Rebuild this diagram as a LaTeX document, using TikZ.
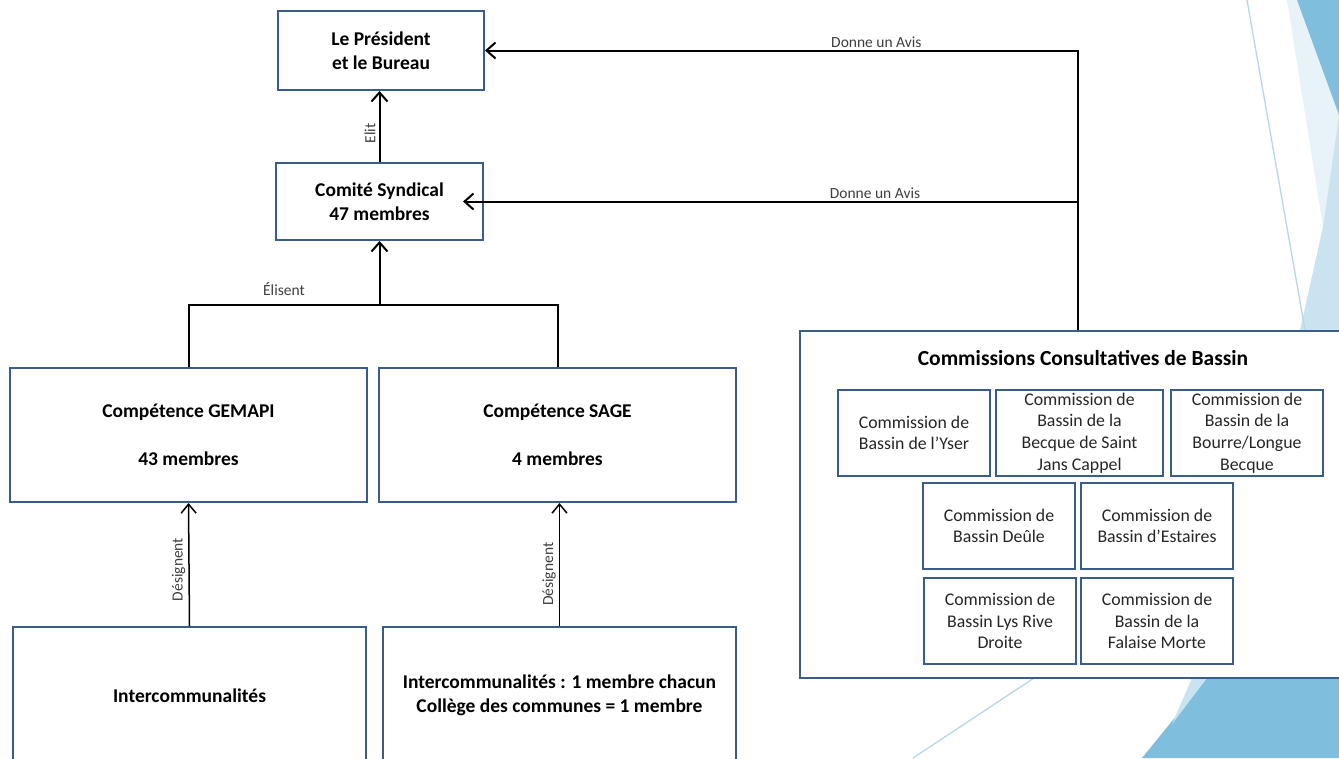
\documentclass[tikz,border=0pt]{standalone}
\usepackage{fontspec}
\setmainfont{Carlito}
\usetikzlibrary{arrows.meta}
\definecolor{boxblue}{HTML}{385D8A}
\definecolor{bgdark}{HTML}{80BEDD}
\definecolor{bgmid}{HTML}{C9E3F1}
\definecolor{bgvlight}{HTML}{E8F3F9}
\definecolor{bgline}{HTML}{B8D6E6}
\definecolor{lblgray}{HTML}{3F3F3F}
\tikzset{
  mainbox/.style={draw=boxblue, line width=2pt, fill=white, align=center,
    font=\fontsize{19.5}{23.5}\selectfont\bfseries, inner sep=0pt},
  subbox/.style={draw=boxblue, line width=2pt, fill=white, align=center,
    font=\fontsize{17.8}{21.6}\selectfont, text=black!85,
    minimum width=152pt, minimum height=86pt, inner sep=0pt},
  conn/.style={line width=2pt, black},
  arr/.style={conn, -{Straight Barb[length=9pt,width=16pt]}},
  thinarr/.style={line width=1.5pt, black, -{Straight Barb[length=9pt,width=15pt]}},
  lbl/.style={font=\fontsize{15.5}{17}\selectfont, text=lblgray, inner sep=1.5pt},
  vlbl/.style={lbl, rotate=90, anchor=south, inner sep=3pt},
  bgl/.style={draw=bgline, line width=1.3pt}
}
\begin{document}
\begin{tikzpicture}[x=1pt,y=-1pt]
\clip (0,0) rectangle (1339,758);
\fill[white] (0,0) rectangle (1339,758);
% background decoration
\fill[bgvlight] (1287,0) -- (1297,0) -- (1339,115) -- (1323,227) -- cycle;
\fill[bgmid] (1339,115) -- (1339,330) -- (1300,330) -- (1323,227) -- cycle;
\fill[bgdark] (1297,0) -- (1339,0) -- (1339,115) -- cycle;
\draw[bgl] (1247,0) -- (1305,330);
\fill[bgdark] (1207,678) -- (1339,678) -- (1339,758) -- (1142,758) -- cycle;
\fill[bgmid] (1192,678) -- (1207,678) -- (1172,724) -- cycle;
\draw[bgl] (1034,678) -- (913,758);

% left hierarchy
\node[mainbox, minimum width=206pt, minimum height=79pt] (pres) at (381,50.5) {Le Président\\et le Bureau};
\node[mainbox, minimum width=207pt, minimum height=77pt] (com) at (379.5,201.5) {Comité Syndical\\47 membres};
\node[mainbox, minimum width=357pt, minimum height=134pt] (gem) at (188.5,435) {Compétence GEMAPI\\[24pt]43 membres};
\node[mainbox, minimum width=357pt, minimum height=134pt] (sage) at (557.5,435) {Compétence SAGE\\[24pt]4 membres};
\node[mainbox, minimum width=353pt, minimum height=137pt] (ic1) at (189.5,695.5) {Intercommunalités};
\node[mainbox, minimum width=353pt, minimum height=137pt] (ic2) at (559.5,695.5) {Intercommunalités : 1 membre chacun\\Collège des communes = 1 membre};

% commissions
\node[draw=boxblue, line width=2pt, fill=white, minimum width=545pt, minimum height=347pt, inner sep=0pt] (ccb) at (1072.5,504.5) {};
\node[font=\fontsize{21.5}{25}\selectfont\bfseries, inner sep=0pt] (ccbt) at (1083,358) {Commissions Consultatives de Bassin};
\node[subbox] (yser) at (914,433) {Commission de\\Bassin de l’Yser};
\node[subbox, minimum width=167pt] (becque) at (1079.5,433) {Commission de\\Bassin de la\\Becque de Saint\\Jans Cappel};
\node[subbox] (bourre) at (1247,433) {Commission de\\Bassin de la\\Bourre/Longue\\Becque};
\node[subbox] (deule) at (999,526) {Commission de\\Bassin Deûle};
\node[subbox] (estaires) at (1157,526) {Commission de\\Bassin d’Estaires};
\node[subbox] (lys) at (1000,621) {Commission de\\Bassin Lys Rive\\Droite};
\node[subbox] (falaise) at (1157,621) {Commission de\\Bassin de la\\Falaise Morte};

% connectors
\draw[arr] (com.north) -- (com.north |- pres.south) node[pos=0.4, vlbl] {Elit};
\coordinate (j) at (379.5,305);
\draw[conn] (gem.north) |- (j) node[pos=0.75, above=7pt, lbl] {Élisent} -| (sage.north);
\draw[arr] (j) -- (j |- com.south);
\draw[thinarr] (ic1.north) -- (gem.south) node[pos=0.46, vlbl] {Désignent};
\draw[thinarr] (ic2.north) -- (ic2.north |- sage.south) node[pos=0.42, vlbl] {Désignent};
\coordinate (k) at ([xshift=5.5pt]ccb.north);
\draw[arr] (k) |- (pres.east) node[pos=0.67, above, lbl] {Donne un Avis};
\draw[arr] (k |- com.east) -- ([xshift=-21pt]com.east) node[pos=0.33, above, lbl] {Donne un Avis};
\end{tikzpicture}
\end{document}
